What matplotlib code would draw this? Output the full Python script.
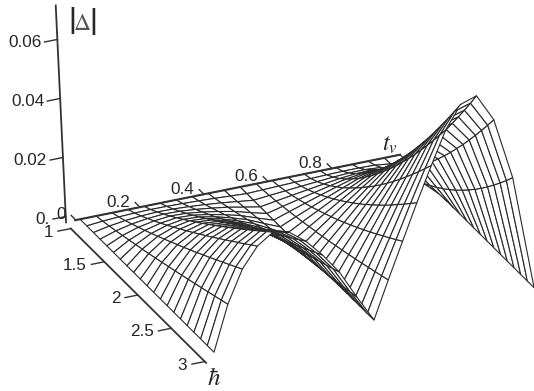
import numpy as np
import matplotlib
matplotlib.use("Agg")
import matplotlib.pyplot as plt
from mpl_toolkits.mplot3d import proj3d

plt.rcParams["font.family"] = ["Liberation Sans", "DejaVu Sans"]
plt.rcParams["mathtext.fontset"] = "stix"

# values
t_values = [0.0, 0.05, 0.1, 0.15, 0.2, 0.25, 0.3, 0.35, 0.4, 0.45, 0.5,
            0.55, 0.6, 0.65, 0.7, 0.75, 0.8, 0.85, 0.9, 0.95, 1.0]
hbar_values = [1.0, 1.1, 1.2, 1.3, 1.4, 1.5, 1.6, 1.7, 1.8, 1.9, 2.0,
               2.1, 2.2, 2.3, 2.4, 2.5, 2.6, 2.7, 2.8, 2.9, 3.0]

# |delta| along the front edge (hbar = 3)
front_edge = [0.0, 0.0152, 0.0260, 0.0327, 0.0363, 0.0352, 0.0311, 0.0253, 0.0184, 0.0089, 0.0,
              0.0125, 0.0245, 0.0365, 0.0480, 0.0590, 0.0665, 0.0683, 0.0591, 0.0384, 0.0]

# share of the front edge reached at each hbar: left hump, right hump, last column
left_share = [0.0, 0.032, 0.071, 0.113, 0.157, 0.203, 0.25, 0.299, 0.349, 0.399, 0.451,
              0.503, 0.556, 0.609, 0.664, 0.718, 0.774, 0.83, 0.886, 0.943, 1.0]
right_share = [0.0, 0.015, 0.04, 0.07, 0.105, 0.144, 0.185, 0.23, 0.277, 0.327, 0.379,
               0.433, 0.489, 0.547, 0.607, 0.668, 0.732, 0.797, 0.863, 0.931, 1.0]
tail_share = [0.0, 0.006, 0.02, 0.04, 0.065, 0.095, 0.129, 0.168, 0.211, 0.257, 0.308,
              0.362, 0.42, 0.481, 0.545, 0.613, 0.684, 0.759, 0.836, 0.916, 1.0]

z_ticks = [0.0, 0.02, 0.04, 0.06]
z_labels = ["0.", "0.02", "0.04", "0.06"]
t_ticks = [0.0, 0.2, 0.4, 0.6, 0.8]
t_labels = ["0", "0.2", "0.4", "0.6", "0.8"]
hbar_ticks = [1.0, 1.5, 2.0, 2.5, 3.0]
hbar_labels = ["1", "1.5", "2", "2.5", "3"]

AXIS_COLOR = "#333333"
TEXT_COLOR = "#262626"
FONT = 12.3

t_arr = np.array(t_values)
h_arr = np.array(hbar_values)
edge = np.array(front_edge)
T, H = np.meshgrid(t_arr, h_arr)
Z = np.where(t_arr <= 0.5,
             np.outer(left_share, edge),
             np.outer(right_share, edge))
Z[:, 19] = np.array(tail_share) * edge[19]

fig = plt.figure(figsize=(5.34, 3.91), dpi=100)
side = 536.0
ax = fig.add_axes([26.8 / 534, -32.2 / 391, side / 534, side / 391], projection="3d")
ax.set_proj_type("ortho")
ax.set_box_aspect((1.4889, 1.5733, 1.0))
ax.view_init(elev=24.09, azim=-110.5, roll=2.72)
ax.set_xlim(0, 1, view_margin=0)
ax.set_ylim(3, 1, view_margin=0)
ax.set_zlim(0, 0.0715, view_margin=0)
ax.set_axis_off()
ax.computed_zorder = False


def label(x, y, z, s, **kw):
    # text placed on the flat view plane, at the projected 3d point
    px, py, _ = proj3d.proj_transform(x, y, z, ax.get_proj())
    kw.setdefault("color", TEXT_COLOR)
    ax.text2D(px, py, s, transform=ax.transData, **kw)


ax.plot_surface(T, H, Z, rstride=1, cstride=1, color="white", edgecolor="#2a2a2a",
                linewidth=0.8, shade=False, zorder=1)

# axis lines, drawn by hand since the default 3d axes sit on the box edges
ax.plot([-0.03, -0.03], [0.93, 0.93], [-0.002, 0.0715], color=AXIS_COLOR, lw=1.3, zorder=2)
ax.plot([-0.015, 1.0], [1, 1], [0, 0], color=AXIS_COLOR, lw=1.5, zorder=2)
ax.plot([-0.03, -0.03], [1, 3.02], [-0.0025, -0.0025], color=AXIS_COLOR, lw=1.3, zorder=2)

for v, lab in zip(z_ticks, z_labels):
    ax.plot([-0.03, -0.07], [0.93, 0.93], [v, v], color=AXIS_COLOR, lw=1.0, zorder=2)
    label(-0.08, 0.93, v, lab, ha="right", va="center", fontsize=FONT)

for v, lab in zip(t_ticks, t_labels):
    ax.plot([v - 0.013, v - 0.013], [1, 0.93], [0, 0], color=AXIS_COLOR, lw=1.0, zorder=2)
    label(v - 0.028, 0.93, 0.0005, lab, ha="right", va="center", fontsize=FONT)

for v, lab in zip(hbar_ticks, hbar_labels):
    ax.plot([-0.03, -0.07], [v, v], [-0.0025, -0.0025], color=AXIS_COLOR, lw=1.0, zorder=2)
    label(-0.085, v, -0.0025, lab, ha="right", va="center", fontsize=FONT)

label(0.015, 0.93, 0.0641, r"$|$", ha="center", va="center", fontsize=28)
label(0.048, 0.93, 0.0634, r"$\mathit{\Delta}$", ha="center", va="center", fontsize=17, color="#555555")
label(0.081, 0.93, 0.0626, r"$|$", ha="center", va="center", fontsize=28)
label(0.97, 1, 0.004, r"$t_v$", ha="center", va="center", fontsize=17)
label(-0.025, 3.1, -0.006, r"$\hbar$", ha="center", va="center", fontsize=18)

fig.savefig("out.png", dpi=100)
